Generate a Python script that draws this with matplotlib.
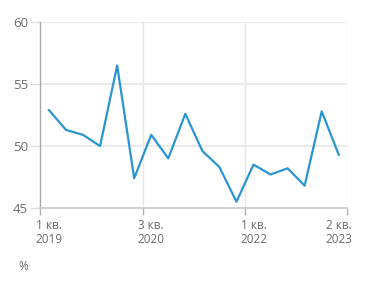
import matplotlib
matplotlib.use("Agg")
import matplotlib.pyplot as plt

# quarterly values, 1 кв. 2019 .. 2 кв. 2023
quarters = ["1 кв.\n2019", "2 кв.\n2019", "3 кв.\n2019", "4 кв.\n2019",
            "1 кв.\n2020", "2 кв.\n2020", "3 кв.\n2020", "4 кв.\n2020",
            "1 кв.\n2021", "2 кв.\n2021", "3 кв.\n2021", "4 кв.\n2021",
            "1 кв.\n2022", "2 кв.\n2022", "3 кв.\n2022", "4 кв.\n2022",
            "1 кв.\n2023", "2 кв.\n2023"]
values = [52.9, 51.3, 50.9, 50.0, 56.5, 47.4, 50.9, 49.0, 52.6,
          49.6, 48.3, 45.5, 48.5, 47.7, 48.2, 46.8, 52.8, 49.3]
shown = [0, 6, 12, 17]
yticks = [45, 50, 55, 60]

grey = "#6b6b6b"
plt.rcParams["font.family"] = ["Open Sans", "DejaVu Sans"]

fig = plt.figure(figsize=(3.71, 2.88), dpi=100)
ax = fig.add_axes([0.109, 0.278, 0.827, 0.645])

x = list(range(len(values)))
ax.plot(x, values, color="#2a95d0", lw=1.6, zorder=3)

ax.set_xlim(-0.5, len(values) - 0.5)
ax.set_ylim(45, 60)

# gridlines / ticks on category boundaries every 6 quarters
bounds = [-0.5, 5.5, 11.5, 17.5]
for b in bounds[1:]:
    ax.axvline(b, color="#e6e6e6", lw=1, zorder=1)
for yv in yticks[1:]:
    ax.axhline(yv, color="#ebebeb", lw=1.5, zorder=1)

ax.set_xticks(bounds)
ax.set_xticklabels([])
ax.set_yticks(yticks)
ax.set_yticklabels([str(v) for v in yticks], color=grey, fontsize=9.5)
ax.tick_params(axis="y", length=7, color="#e0e0e0", width=1, pad=2)
ax.tick_params(axis="x", length=5, color="#b0b0b0", width=1)

for i in shown:
    ax.text(i, 44.1, quarters[i], ha="center", va="top", color=grey,
            fontsize=8.5, linespacing=1.1)

for s in ["top", "right"]:
    ax.spines[s].set_visible(False)
ax.spines["left"].set_color("#a8a8a8")
ax.spines["bottom"].set_color("#c8c8c8")
ax.spines["left"].set_linewidth(1)
ax.spines["bottom"].set_linewidth(1.2)

fig.text(0.049, 0.076, "%", color=grey, fontsize=8.5, va="center")

fig.savefig("out.png", dpi=100)
